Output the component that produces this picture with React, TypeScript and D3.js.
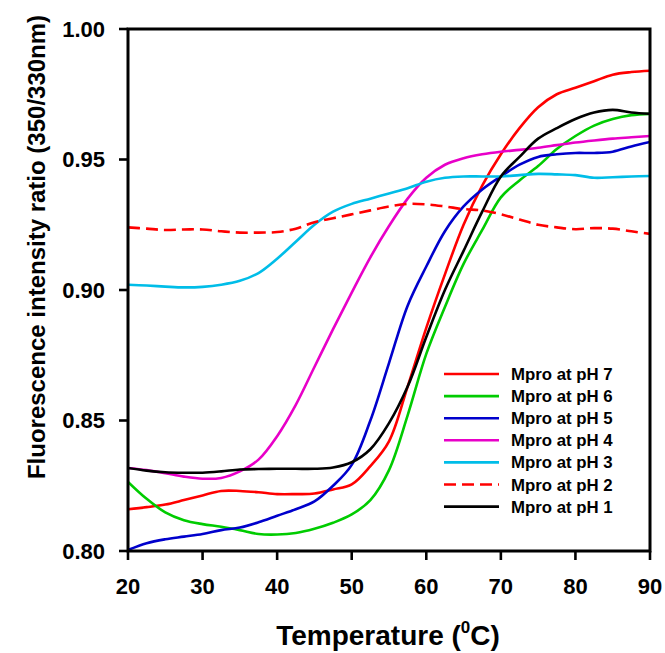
import React from "react";
import * as d3 from "d3";

const temps = [20, 22.5, 25, 27.5, 30, 32.5, 35, 37.5, 40, 42.5, 45, 47.5, 50, 52.5, 55, 57.5, 60, 62.5, 65, 67.5, 70, 72.5, 75, 77.5, 80, 82.5, 85, 87.5, 90];

const ph7 = [0.816, 0.8168, 0.8178, 0.8195, 0.8213, 0.823, 0.823, 0.8225, 0.8218, 0.8218, 0.822, 0.8236, 0.8255, 0.8325, 0.842, 0.863, 0.8855, 0.906, 0.925, 0.94, 0.952, 0.962, 0.97, 0.975, 0.9775, 0.98, 0.9825, 0.9835, 0.984];
const ph6 = [0.8265, 0.82, 0.8148, 0.8118, 0.8103, 0.8093, 0.808, 0.8065, 0.8063, 0.8069, 0.8085, 0.8108, 0.814, 0.8195, 0.831, 0.852, 0.8755, 0.8935, 0.91, 0.923, 0.9355, 0.942, 0.9475, 0.954, 0.959, 0.963, 0.9655, 0.967, 0.9675];
const ph5 = [0.8004, 0.803, 0.8045, 0.8055, 0.8065, 0.808, 0.809, 0.811, 0.8135, 0.816, 0.819, 0.825, 0.833, 0.85, 0.872, 0.894, 0.909, 0.9225, 0.932, 0.9385, 0.9435, 0.948, 0.951, 0.952, 0.9525, 0.9525, 0.953, 0.955, 0.9567];
const ph4 = [0.8318, 0.831, 0.8298, 0.8285, 0.8277, 0.828, 0.8305, 0.835, 0.844, 0.856, 0.8705, 0.885, 0.899, 0.9125, 0.9245, 0.935, 0.943, 0.948, 0.9505, 0.952, 0.953, 0.9537, 0.9545, 0.9555, 0.9565, 0.9573, 0.958, 0.9585, 0.959];
const ph3 = [0.902, 0.9017, 0.9013, 0.901, 0.9012, 0.902, 0.9035, 0.9065, 0.912, 0.9185, 0.925, 0.93, 0.933, 0.935, 0.937, 0.939, 0.9415, 0.943, 0.9435, 0.9435, 0.9435, 0.944, 0.9445, 0.9443, 0.944, 0.943, 0.9432, 0.9435, 0.9437];
const ph2 = [0.924, 0.9235, 0.923, 0.9232, 0.9232, 0.9225, 0.922, 0.922, 0.9222, 0.9235, 0.926, 0.9275, 0.929, 0.9305, 0.932, 0.933, 0.9328, 0.932, 0.931, 0.9305, 0.929, 0.927, 0.925, 0.924, 0.9233, 0.9237, 0.9235, 0.9225, 0.9215];
const ph1 = [0.8318, 0.8308, 0.8302, 0.83, 0.83, 0.8305, 0.8312, 0.8314, 0.8315, 0.8315, 0.8315, 0.832, 0.834, 0.839, 0.849, 0.863, 0.882, 0.9, 0.915, 0.93, 0.9435, 0.951, 0.958, 0.962, 0.9655, 0.968, 0.969, 0.968, 0.9675];

const seriesNames = ["Mpro at pH 7", "Mpro at pH 6", "Mpro at pH 5", "Mpro at pH 4", "Mpro at pH 3", "Mpro at pH 2", "Mpro at pH 1"];
const seriesValues = [ph7, ph6, ph5, ph4, ph3, ph2, ph1];
const seriesColors = ["#ff0000", "#00cc00", "#0000cc", "#e800c8", "#00bde8", "#ff0000", "#000000"];
const seriesDash = [null, null, null, null, null, "12,6", null];

const xTicks = [20, 30, 40, 50, 60, 70, 80, 90];
const yTicks = [0.8, 0.85, 0.9, 0.95, 1.0];

const FONT = "Liberation Sans, Arial, sans-serif";

export default function App() {
  const W = 665, H = 653;
  const left = 128, right = 650, top = 29, bottom = 551;
  const x = d3.scaleLinear().domain([20, 90]).range([left, right]);
  const y = d3.scaleLinear().domain([0.8, 1.0]).range([bottom, top]);
  const line = d3
    .line<number>()
    .x((_, i) => x(temps[i]))
    .y((d) => y(d))
    .curve(d3.curveCatmullRom.alpha(0.5));

  const legendY0 = 374;
  const legendStep = 22.1;

  return (
    <svg width={W} height={H} style={{ position: "absolute", left: 0, top: 0, background: "#fff" }}>
      <rect x={0} y={0} width={W} height={H} fill="#fff" />
      <defs>
        <clipPath id="plot">
          <rect x={left} y={top} width={right - left} height={bottom - top} />
        </clipPath>
      </defs>
      <g clipPath="url(#plot)">
        {seriesValues.map((vals, i) => (
          <path
            key={i}
            d={line(vals) || ""}
            fill="none"
            stroke={seriesColors[i]}
            strokeWidth={2.6}
            strokeDasharray={seriesDash[i] || undefined}
          />
        ))}
      </g>
      <rect x={left} y={top} width={right - left} height={bottom - top} fill="none" stroke="#000" strokeWidth={3} />
      {yTicks.map((t) => (
        <g key={t}>
          <line x1={left - 9} x2={left} y1={y(t)} y2={y(t)} stroke="#000" strokeWidth={2.6} />
          <text x={105} y={y(t)} dy="0.36em" textAnchor="end" fontFamily={FONT} fontWeight="bold" fontSize={22} fill="#000">
            {t.toFixed(2)}
          </text>
        </g>
      ))}
      {xTicks.map((t) => (
        <g key={t}>
          <line x1={x(t)} x2={x(t)} y1={bottom} y2={bottom + 9} stroke="#000" strokeWidth={2.6} />
          <text x={x(t)} y={594} textAnchor="middle" fontFamily={FONT} fontWeight="bold" fontSize={22} fill="#000">
            {t}
          </text>
        </g>
      ))}
      <text x={388} y={645} textAnchor="middle" fontFamily={FONT} fontWeight="bold" fontSize={28} fill="#000">
        Temperature (<tspan fontSize={17} dy={-12}>0</tspan>
        <tspan dy={12}>C)</tspan>
      </text>
      <text
        transform={`translate(45, 247) rotate(-90)`}
        textAnchor="middle"
        fontFamily={FONT}
        fontWeight="bold"
        fontSize={24}
        fill="#000"
      >
        Fluorescence intensity ratio (350/330nm)
      </text>
      {seriesNames.map((name, i) => {
        const ly = legendY0 + i * legendStep;
        return (
          <g key={name}>
            <line
              x1={444}
              x2={499}
              y1={ly}
              y2={ly}
              stroke={seriesColors[i]}
              strokeWidth={2.6}
              strokeDasharray={seriesDash[i] || undefined}
            />
            <text x={511} y={ly} dy="0.36em" fontFamily={FONT} fontWeight="bold" fontSize={16.8} fill="#000">
              {name}
            </text>
          </g>
        );
      })}
    </svg>
  );
}
